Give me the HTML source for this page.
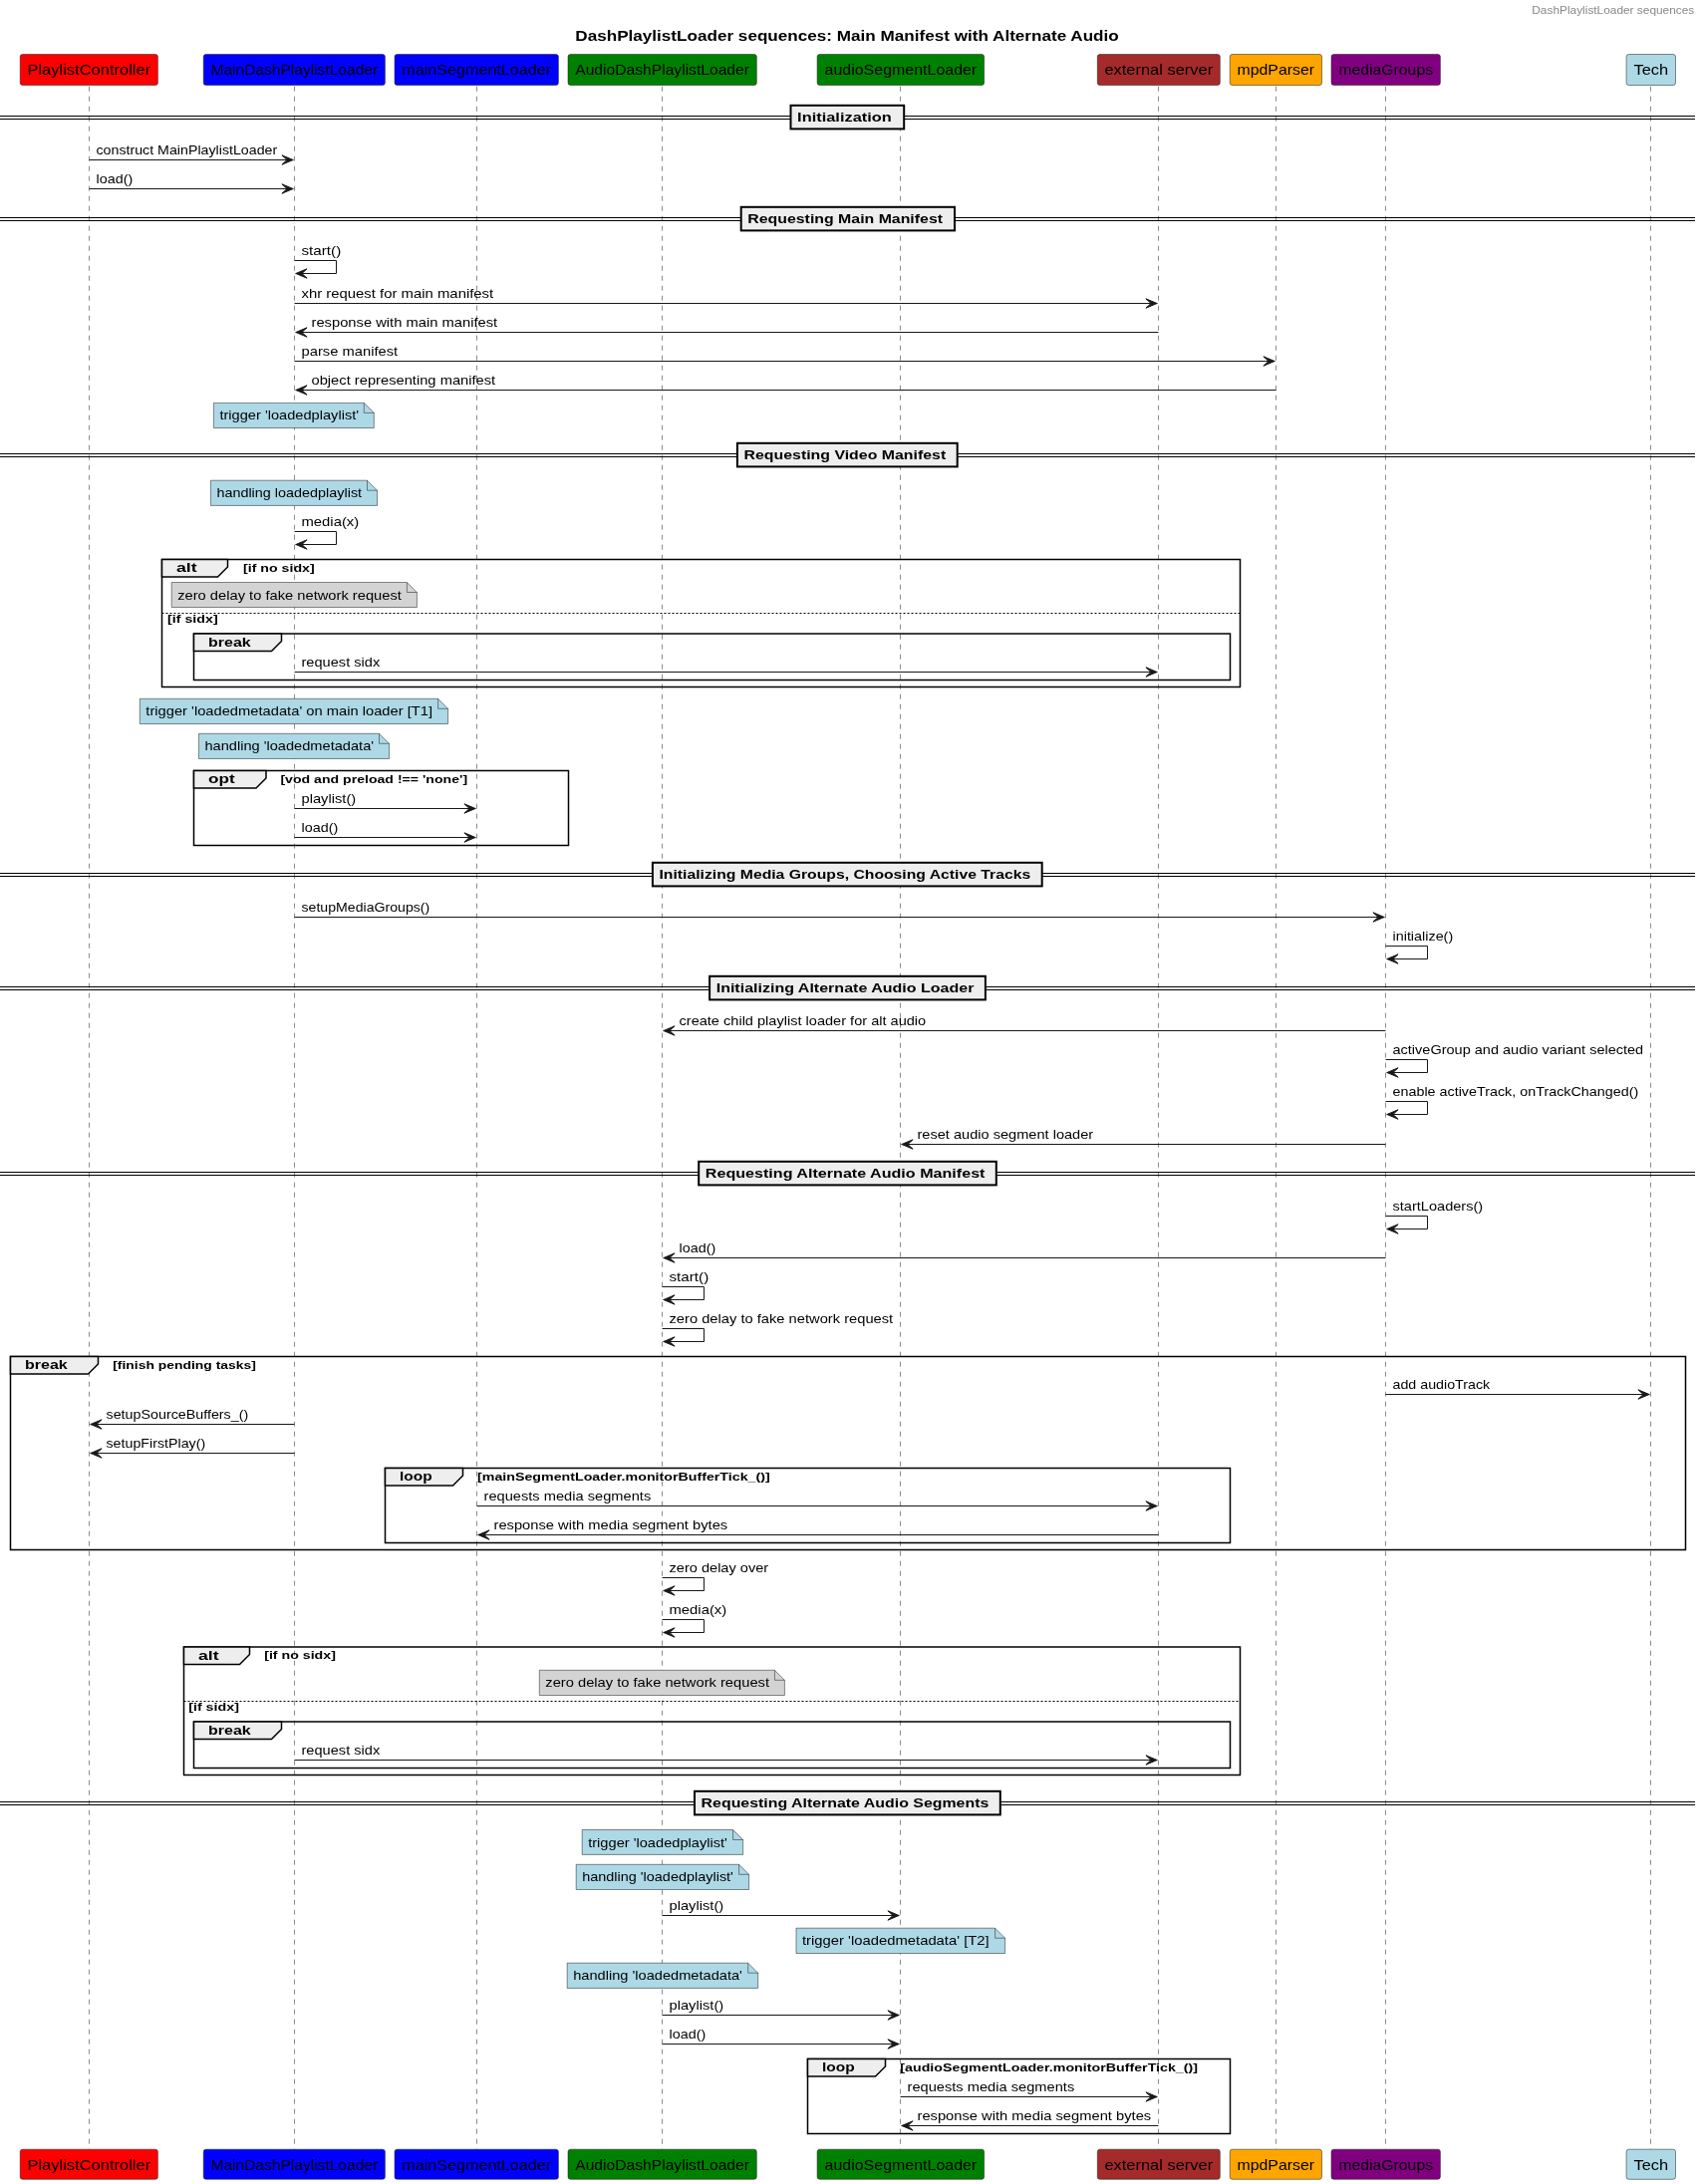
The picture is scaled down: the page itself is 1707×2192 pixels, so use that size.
<!DOCTYPE html>
<html><head><meta charset="utf-8"><title>DashPlaylistLoader sequences</title>
<style>html,body{margin:0;padding:0;background:#fff;width:1707px;height:2192px;overflow:hidden}svg{display:block;will-change:transform}text{font-family:"Liberation Sans",sans-serif}</style>
</head><body>
<svg width="1707" height="2192" viewBox="0 0 1707 2192" font-family="Liberation Sans, sans-serif"><line x1="89.5" y1="86.7" x2="89.5" y2="2157.2" stroke="#181818" stroke-width="0.5" stroke-dasharray="5,5"/>
<line x1="295.5" y1="86.7" x2="295.5" y2="2157.2" stroke="#181818" stroke-width="0.5" stroke-dasharray="5,5"/>
<line x1="478.5" y1="86.7" x2="478.5" y2="2157.2" stroke="#181818" stroke-width="0.5" stroke-dasharray="5,5"/>
<line x1="664.5" y1="86.7" x2="664.5" y2="2157.2" stroke="#181818" stroke-width="0.5" stroke-dasharray="5,5"/>
<line x1="903.5" y1="86.7" x2="903.5" y2="2157.2" stroke="#181818" stroke-width="0.5" stroke-dasharray="5,5"/>
<line x1="1162.5" y1="86.7" x2="1162.5" y2="2157.2" stroke="#181818" stroke-width="0.5" stroke-dasharray="5,5"/>
<line x1="1280.5" y1="86.7" x2="1280.5" y2="2157.2" stroke="#181818" stroke-width="0.5" stroke-dasharray="5,5"/>
<line x1="1390.5" y1="86.7" x2="1390.5" y2="2157.2" stroke="#181818" stroke-width="0.5" stroke-dasharray="5,5"/>
<line x1="1656.5" y1="86.7" x2="1656.5" y2="2157.2" stroke="#181818" stroke-width="0.5" stroke-dasharray="5,5"/>
<line x1="0" y1="116.5" x2="1701" y2="116.5" stroke="#000" stroke-width="1"/>
<line x1="0" y1="119.5" x2="1701" y2="119.5" stroke="#000" stroke-width="1"/>
<rect x="793.5" y="105.8" width="113.7" height="23.6" fill="#EEEEEE" stroke="#000" stroke-width="2"/>
<text x="800.1" y="121.8" font-size="13.3" font-weight="bold" fill="#000000" textLength="94.7" lengthAdjust="spacingAndGlyphs">Initialization</text>
<line x1="0" y1="218.5" x2="1701" y2="218.5" stroke="#000" stroke-width="1"/>
<line x1="0" y1="221.5" x2="1701" y2="221.5" stroke="#000" stroke-width="1"/>
<rect x="743.7" y="207.8" width="214.3" height="23.6" fill="#EEEEEE" stroke="#000" stroke-width="2"/>
<text x="750.3" y="223.8" font-size="13.3" font-weight="bold" fill="#000000" textLength="195.7" lengthAdjust="spacingAndGlyphs">Requesting Main Manifest</text>
<line x1="0" y1="455.5" x2="1701" y2="455.5" stroke="#000" stroke-width="1"/>
<line x1="0" y1="458.5" x2="1701" y2="458.5" stroke="#000" stroke-width="1"/>
<rect x="739.9" y="444.8" width="220.8" height="23.6" fill="#EEEEEE" stroke="#000" stroke-width="2"/>
<text x="746.5" y="460.8" font-size="13.3" font-weight="bold" fill="#000000" textLength="202.7" lengthAdjust="spacingAndGlyphs">Requesting Video Manifest</text>
<line x1="0" y1="876.5" x2="1701" y2="876.5" stroke="#000" stroke-width="1"/>
<line x1="0" y1="879.5" x2="1701" y2="879.5" stroke="#000" stroke-width="1"/>
<rect x="654.9" y="865.8" width="390.8" height="23.6" fill="#EEEEEE" stroke="#000" stroke-width="2"/>
<text x="661.5" y="881.8" font-size="13.3" font-weight="bold" fill="#000000" textLength="372.7" lengthAdjust="spacingAndGlyphs">Initializing Media Groups, Choosing Active Tracks</text>
<line x1="0" y1="990.5" x2="1701" y2="990.5" stroke="#000" stroke-width="1"/>
<line x1="0" y1="993.5" x2="1701" y2="993.5" stroke="#000" stroke-width="1"/>
<rect x="712.1" y="979.8" width="276.8" height="23.6" fill="#EEEEEE" stroke="#000" stroke-width="2"/>
<text x="718.7" y="995.8" font-size="13.3" font-weight="bold" fill="#000000" textLength="258.7" lengthAdjust="spacingAndGlyphs">Initializing Alternate Audio Loader</text>
<line x1="0" y1="1176.5" x2="1701" y2="1176.5" stroke="#000" stroke-width="1"/>
<line x1="0" y1="1179.5" x2="1701" y2="1179.5" stroke="#000" stroke-width="1"/>
<rect x="701.2" y="1165.8" width="298.6" height="23.6" fill="#EEEEEE" stroke="#000" stroke-width="2"/>
<text x="707.8" y="1181.8" font-size="13.3" font-weight="bold" fill="#000000" textLength="280.7" lengthAdjust="spacingAndGlyphs">Requesting Alternate Audio Manifest</text>
<line x1="0" y1="1808.5" x2="1701" y2="1808.5" stroke="#000" stroke-width="1"/>
<line x1="0" y1="1811.5" x2="1701" y2="1811.5" stroke="#000" stroke-width="1"/>
<rect x="697.0" y="1797.8" width="306.8" height="23.6" fill="#EEEEEE" stroke="#000" stroke-width="2"/>
<text x="703.6" y="1813.8" font-size="13.3" font-weight="bold" fill="#000000" textLength="288.7" lengthAdjust="spacingAndGlyphs">Requesting Alternate Audio Segments</text>
<rect x="162.5" y="561.5" width="1082.0" height="128.0" fill="none" stroke="#000" stroke-width="1.5"/>
<polygon points="162.5,561.5 228.5,561.5 228.5,569.0 218.5,579.0 162.5,579.0 162.5,561.5" fill="#EEEEEE" stroke="#000" stroke-width="1.5"/>
<text x="177.0" y="574.3" font-size="13.3" font-weight="bold" fill="#000000" textLength="20.7" lengthAdjust="spacingAndGlyphs">alt</text>
<text x="244.0" y="573.5" font-size="11.3" font-weight="bold" fill="#000000" textLength="71.7" lengthAdjust="spacingAndGlyphs">[if no sidx]</text>
<line x1="162.5" y1="615.5" x2="1244.5" y2="615.5" stroke="#000" stroke-width="1" stroke-dasharray="2,2"/>
<text x="168.0" y="625.0" font-size="11.3" font-weight="bold" fill="#000000" textLength="50.7" lengthAdjust="spacingAndGlyphs">[if sidx]</text>
<rect x="194.5" y="636" width="1040.0" height="46.5" fill="none" stroke="#000" stroke-width="1.5"/>
<polygon points="194.5,636 282.5,636 282.5,643.5 272.5,653.5 194.5,653.5 194.5,636" fill="#EEEEEE" stroke="#000" stroke-width="1.5"/>
<text x="209.0" y="648.8" font-size="13.3" font-weight="bold" fill="#000000" textLength="42.7" lengthAdjust="spacingAndGlyphs">break</text>
<rect x="194.5" y="773.5" width="376.0" height="75.0" fill="none" stroke="#000" stroke-width="1.5"/>
<polygon points="194.5,773.5 267.0,773.5 267.0,781.0 257.0,791.0 194.5,791.0 194.5,773.5" fill="#EEEEEE" stroke="#000" stroke-width="1.5"/>
<text x="209.0" y="786.3" font-size="13.3" font-weight="bold" fill="#000000" textLength="26.7" lengthAdjust="spacingAndGlyphs">opt</text>
<text x="281.4" y="785.5" font-size="11.3" font-weight="bold" fill="#000000" textLength="187.7" lengthAdjust="spacingAndGlyphs">[vod and preload !== &#39;none&#39;]</text>
<rect x="10.5" y="1361.5" width="1681.0" height="194.0" fill="none" stroke="#000" stroke-width="1.5"/>
<polygon points="10.5,1361.5 98.5,1361.5 98.5,1369.0 88.5,1379.0 10.5,1379.0 10.5,1361.5" fill="#EEEEEE" stroke="#000" stroke-width="1.5"/>
<text x="25.0" y="1374.3" font-size="13.3" font-weight="bold" fill="#000000" textLength="42.7" lengthAdjust="spacingAndGlyphs">break</text>
<text x="113.2" y="1373.5" font-size="11.3" font-weight="bold" fill="#000000" textLength="143.7" lengthAdjust="spacingAndGlyphs">[finish pending tasks]</text>
<rect x="386.5" y="1473.5" width="848.0" height="75.0" fill="none" stroke="#000" stroke-width="1.5"/>
<polygon points="386.5,1473.5 464.5,1473.5 464.5,1481.0 454.5,1491.0 386.5,1491.0 386.5,1473.5" fill="#EEEEEE" stroke="#000" stroke-width="1.5"/>
<text x="401.0" y="1486.3" font-size="13.3" font-weight="bold" fill="#000000" textLength="32.7" lengthAdjust="spacingAndGlyphs">loop</text>
<text x="479.0" y="1485.5" font-size="11.3" font-weight="bold" fill="#000000" textLength="293.7" lengthAdjust="spacingAndGlyphs">[mainSegmentLoader.monitorBufferTick_()]</text>
<rect x="184.5" y="1653" width="1060.0" height="128.5" fill="none" stroke="#000" stroke-width="1.5"/>
<polygon points="184.5,1653 250.5,1653 250.5,1660.5 240.5,1670.5 184.5,1670.5 184.5,1653" fill="#EEEEEE" stroke="#000" stroke-width="1.5"/>
<text x="199.0" y="1665.8" font-size="13.3" font-weight="bold" fill="#000000" textLength="20.7" lengthAdjust="spacingAndGlyphs">alt</text>
<text x="265.2" y="1665.0" font-size="11.3" font-weight="bold" fill="#000000" textLength="71.7" lengthAdjust="spacingAndGlyphs">[if no sidx]</text>
<line x1="184.5" y1="1707.5" x2="1244.5" y2="1707.5" stroke="#000" stroke-width="1" stroke-dasharray="2,2"/>
<text x="189.2" y="1717.0" font-size="11.3" font-weight="bold" fill="#000000" textLength="50.7" lengthAdjust="spacingAndGlyphs">[if sidx]</text>
<rect x="194.5" y="1728" width="1040.0" height="46.5" fill="none" stroke="#000" stroke-width="1.5"/>
<polygon points="194.5,1728 282.5,1728 282.5,1735.5 272.5,1745.5 194.5,1745.5 194.5,1728" fill="#EEEEEE" stroke="#000" stroke-width="1.5"/>
<text x="209.0" y="1740.8" font-size="13.3" font-weight="bold" fill="#000000" textLength="42.7" lengthAdjust="spacingAndGlyphs">break</text>
<rect x="810.5" y="2066.5" width="424.0" height="75.0" fill="none" stroke="#000" stroke-width="1.5"/>
<polygon points="810.5,2066.5 888.5,2066.5 888.5,2074.0 878.5,2084.0 810.5,2084.0 810.5,2066.5" fill="#EEEEEE" stroke="#000" stroke-width="1.5"/>
<text x="825.0" y="2079.3" font-size="13.3" font-weight="bold" fill="#000000" textLength="32.7" lengthAdjust="spacingAndGlyphs">loop</text>
<text x="903.3" y="2078.5" font-size="11.3" font-weight="bold" fill="#000000" textLength="298.7" lengthAdjust="spacingAndGlyphs">[audioSegmentLoader.monitorBufferTick_()]</text>
<path d="M214.4,404.4 L365.3,404.4 L375.3,414.4 L375.3,429.5 L214.4,429.5 Z" fill="#ADD8E6" stroke="#181818" stroke-width="0.5"/>
<path d="M365.3,404.4 L365.3,414.4 L375.3,414.4" fill="none" stroke="#181818" stroke-width="0.5"/>
<text x="220.4" y="421.4" font-size="13.5" fill="#000000" textLength="139.7" lengthAdjust="spacingAndGlyphs">trigger &#39;loadedplaylist&#39;</text>
<path d="M211.4,482.2 L368.5,482.2 L378.5,492.2 L378.5,507.4 L211.4,507.4 Z" fill="#ADD8E6" stroke="#181818" stroke-width="0.5"/>
<path d="M368.5,482.2 L368.5,492.2 L378.5,492.2" fill="none" stroke="#181818" stroke-width="0.5"/>
<text x="217.4" y="499.2" font-size="13.5" fill="#000000" textLength="145.7" lengthAdjust="spacingAndGlyphs">handling loadedplaylist</text>
<path d="M172.2,584.5 L408.4,584.5 L418.4,594.5 L418.4,609.5 L172.2,609.5 Z" fill="#D3D3D3" stroke="#181818" stroke-width="0.5"/>
<path d="M408.4,584.5 L408.4,594.5 L418.4,594.5" fill="none" stroke="#181818" stroke-width="0.5"/>
<text x="178.2" y="601.5" font-size="13.5" fill="#000000" textLength="224.7" lengthAdjust="spacingAndGlyphs">zero delay to fake network request</text>
<path d="M140.3,701.3 L439.6,701.3 L449.6,711.3 L449.6,726.5 L140.3,726.5 Z" fill="#ADD8E6" stroke="#181818" stroke-width="0.5"/>
<path d="M439.6,701.3 L439.6,711.3 L449.6,711.3" fill="none" stroke="#181818" stroke-width="0.5"/>
<text x="146.3" y="718.3" font-size="13.5" fill="#000000" textLength="287.7" lengthAdjust="spacingAndGlyphs">trigger &#39;loadedmetadata&#39; on main loader [T1]</text>
<path d="M199.4,736.3 L380.5,736.3 L390.5,746.3 L390.5,761.5 L199.4,761.5 Z" fill="#ADD8E6" stroke="#181818" stroke-width="0.5"/>
<path d="M380.5,736.3 L380.5,746.3 L390.5,746.3" fill="none" stroke="#181818" stroke-width="0.5"/>
<text x="205.4" y="753.3" font-size="13.5" fill="#000000" textLength="169.7" lengthAdjust="spacingAndGlyphs">handling &#39;loadedmetadata&#39;</text>
<path d="M541.3,1676.3 L777.4,1676.3 L787.4,1686.3 L787.4,1701.5 L541.3,1701.5 Z" fill="#D3D3D3" stroke="#181818" stroke-width="0.5"/>
<path d="M777.4,1676.3 L777.4,1686.3 L787.4,1686.3" fill="none" stroke="#181818" stroke-width="0.5"/>
<text x="547.3" y="1693.3" font-size="13.5" fill="#000000" textLength="224.7" lengthAdjust="spacingAndGlyphs">zero delay to fake network request</text>
<path d="M584.2,1836.5 L735.6,1836.5 L745.6,1846.5 L745.6,1861.4 L584.2,1861.4 Z" fill="#ADD8E6" stroke="#181818" stroke-width="0.5"/>
<path d="M735.6,1836.5 L735.6,1846.5 L745.6,1846.5" fill="none" stroke="#181818" stroke-width="0.5"/>
<text x="590.2" y="1853.5" font-size="13.5" fill="#000000" textLength="139.7" lengthAdjust="spacingAndGlyphs">trigger &#39;loadedplaylist&#39;</text>
<path d="M578.2,1871.3 L741.6,1871.3 L751.6,1881.3 L751.6,1896.5 L578.2,1896.5 Z" fill="#ADD8E6" stroke="#181818" stroke-width="0.5"/>
<path d="M741.6,1871.3 L741.6,1881.3 L751.6,1881.3" fill="none" stroke="#181818" stroke-width="0.5"/>
<text x="584.2" y="1888.3" font-size="13.5" fill="#000000" textLength="151.7" lengthAdjust="spacingAndGlyphs">handling &#39;loadedplaylist&#39;</text>
<path d="M799.0,1935.2 L998.6,1935.2 L1008.6,1945.2 L1008.6,1960.5 L799.0,1960.5 Z" fill="#ADD8E6" stroke="#181818" stroke-width="0.5"/>
<path d="M998.6,1935.2 L998.6,1945.2 L1008.6,1945.2" fill="none" stroke="#181818" stroke-width="0.5"/>
<text x="805.0" y="1952.2" font-size="13.5" fill="#000000" textLength="187.7" lengthAdjust="spacingAndGlyphs">trigger &#39;loadedmetadata&#39; [T2]</text>
<path d="M569.2,1970.2 L750.7,1970.2 L760.7,1980.2 L760.7,1995.4 L569.2,1995.4 Z" fill="#ADD8E6" stroke="#181818" stroke-width="0.5"/>
<path d="M750.7,1970.2 L750.7,1980.2 L760.7,1980.2" fill="none" stroke="#181818" stroke-width="0.5"/>
<text x="575.2" y="1987.2" font-size="13.5" fill="#000000" textLength="169.7" lengthAdjust="spacingAndGlyphs">handling &#39;loadedmetadata&#39;</text>
<line x1="89.5" y1="160.5" x2="294.5" y2="160.5" stroke="#181818" stroke-width="1"/>
<polygon points="282.9,155.8 294.1,160.5 282.9,165.2 288.1,160.5" fill="#181818" stroke="#181818" stroke-width="1"/>
<text x="96.5" y="155.1" font-size="13.5" fill="#000000" textLength="181.7" lengthAdjust="spacingAndGlyphs">construct MainPlaylistLoader</text>
<line x1="89.5" y1="189.5" x2="294.5" y2="189.5" stroke="#181818" stroke-width="1"/>
<polygon points="282.9,184.8 294.1,189.5 282.9,194.2 288.1,189.5" fill="#181818" stroke="#181818" stroke-width="1"/>
<text x="96.5" y="184.1" font-size="13.5" fill="#000000" textLength="36.7" lengthAdjust="spacingAndGlyphs">load()</text>
<polyline points="295.5,261.5 337.5,261.5 337.5,274.5 296.5,274.5" fill="none" stroke="#181818" stroke-width="1"/>
<polygon points="308.1,269.8 296.9,274.5 308.1,279.2 302.9,274.5" fill="#181818" stroke="#181818" stroke-width="1"/>
<text x="302.5" y="256.3" font-size="13.5" fill="#000000" textLength="39.7" lengthAdjust="spacingAndGlyphs">start()</text>
<line x1="295.5" y1="304.5" x2="1161.5" y2="304.5" stroke="#181818" stroke-width="1"/>
<polygon points="1149.9,299.8 1161.1,304.5 1149.9,309.2 1155.1,304.5" fill="#181818" stroke="#181818" stroke-width="1"/>
<text x="302.5" y="299.1" font-size="13.5" fill="#000000" textLength="192.7" lengthAdjust="spacingAndGlyphs">xhr request for main manifest</text>
<line x1="296.5" y1="333.5" x2="1162.5" y2="333.5" stroke="#181818" stroke-width="1"/>
<polygon points="308.1,328.8 296.9,333.5 308.1,338.2 302.9,333.5" fill="#181818" stroke="#181818" stroke-width="1"/>
<text x="312.5" y="328.1" font-size="13.5" fill="#000000" textLength="186.7" lengthAdjust="spacingAndGlyphs">response with main manifest</text>
<line x1="295.5" y1="362.5" x2="1279.5" y2="362.5" stroke="#181818" stroke-width="1"/>
<polygon points="1267.9,357.8 1279.1,362.5 1267.9,367.2 1273.1,362.5" fill="#181818" stroke="#181818" stroke-width="1"/>
<text x="302.5" y="357.1" font-size="13.5" fill="#000000" textLength="96.7" lengthAdjust="spacingAndGlyphs">parse manifest</text>
<line x1="296.5" y1="391.5" x2="1280.5" y2="391.5" stroke="#181818" stroke-width="1"/>
<polygon points="308.1,386.8 296.9,391.5 308.1,396.2 302.9,391.5" fill="#181818" stroke="#181818" stroke-width="1"/>
<text x="312.5" y="386.1" font-size="13.5" fill="#000000" textLength="184.7" lengthAdjust="spacingAndGlyphs">object representing manifest</text>
<polyline points="295.5,533.5 337.5,533.5 337.5,546.5 296.5,546.5" fill="none" stroke="#181818" stroke-width="1"/>
<polygon points="308.1,541.8 296.9,546.5 308.1,551.2 302.9,546.5" fill="#181818" stroke="#181818" stroke-width="1"/>
<text x="302.5" y="528.3" font-size="13.5" fill="#000000" textLength="57.7" lengthAdjust="spacingAndGlyphs">media(x)</text>
<line x1="295.5" y1="674.5" x2="1161.5" y2="674.5" stroke="#181818" stroke-width="1"/>
<polygon points="1149.9,669.8 1161.1,674.5 1149.9,679.2 1155.1,674.5" fill="#181818" stroke="#181818" stroke-width="1"/>
<text x="302.5" y="669.1" font-size="13.5" fill="#000000" textLength="78.7" lengthAdjust="spacingAndGlyphs">request sidx</text>
<line x1="295.5" y1="811.5" x2="477.5" y2="811.5" stroke="#181818" stroke-width="1"/>
<polygon points="465.9,806.8 477.1,811.5 465.9,816.2 471.1,811.5" fill="#181818" stroke="#181818" stroke-width="1"/>
<text x="302.5" y="806.1" font-size="13.5" fill="#000000" textLength="54.7" lengthAdjust="spacingAndGlyphs">playlist()</text>
<line x1="295.5" y1="840.5" x2="477.5" y2="840.5" stroke="#181818" stroke-width="1"/>
<polygon points="465.9,835.8 477.1,840.5 465.9,845.2 471.1,840.5" fill="#181818" stroke="#181818" stroke-width="1"/>
<text x="302.5" y="835.1" font-size="13.5" fill="#000000" textLength="36.7" lengthAdjust="spacingAndGlyphs">load()</text>
<line x1="295.5" y1="920.5" x2="1389.5" y2="920.5" stroke="#181818" stroke-width="1"/>
<polygon points="1377.9,915.8 1389.1,920.5 1377.9,925.2 1383.1,920.5" fill="#181818" stroke="#181818" stroke-width="1"/>
<text x="302.5" y="915.1" font-size="13.5" fill="#000000" textLength="128.7" lengthAdjust="spacingAndGlyphs">setupMediaGroups()</text>
<polyline points="1390.5,949.5 1432.5,949.5 1432.5,962.5 1391.5,962.5" fill="none" stroke="#181818" stroke-width="1"/>
<polygon points="1403.1,957.8 1391.9,962.5 1403.1,967.2 1397.9,962.5" fill="#181818" stroke="#181818" stroke-width="1"/>
<text x="1397.5" y="944.3" font-size="13.5" fill="#000000" textLength="60.7" lengthAdjust="spacingAndGlyphs">initialize()</text>
<line x1="665.5" y1="1034.5" x2="1390.5" y2="1034.5" stroke="#181818" stroke-width="1"/>
<polygon points="677.1,1029.8 665.9,1034.5 677.1,1039.2 671.9,1034.5" fill="#181818" stroke="#181818" stroke-width="1"/>
<text x="681.5" y="1029.1" font-size="13.5" fill="#000000" textLength="247.7" lengthAdjust="spacingAndGlyphs">create child playlist loader for alt audio</text>
<polyline points="1390.5,1063.5 1432.5,1063.5 1432.5,1076.5 1391.5,1076.5" fill="none" stroke="#181818" stroke-width="1"/>
<polygon points="1403.1,1071.8 1391.9,1076.5 1403.1,1081.2 1397.9,1076.5" fill="#181818" stroke="#181818" stroke-width="1"/>
<text x="1397.5" y="1058.3" font-size="13.5" fill="#000000" textLength="251.7" lengthAdjust="spacingAndGlyphs">activeGroup and audio variant selected</text>
<polyline points="1390.5,1105.5 1432.5,1105.5 1432.5,1118.5 1391.5,1118.5" fill="none" stroke="#181818" stroke-width="1"/>
<polygon points="1403.1,1113.8 1391.9,1118.5 1403.1,1123.2 1397.9,1118.5" fill="#181818" stroke="#181818" stroke-width="1"/>
<text x="1397.5" y="1100.3" font-size="13.5" fill="#000000" textLength="246.7" lengthAdjust="spacingAndGlyphs">enable activeTrack, onTrackChanged()</text>
<line x1="904.5" y1="1148.5" x2="1390.5" y2="1148.5" stroke="#181818" stroke-width="1"/>
<polygon points="916.1,1143.8 904.9,1148.5 916.1,1153.2 910.9,1148.5" fill="#181818" stroke="#181818" stroke-width="1"/>
<text x="920.5" y="1143.1" font-size="13.5" fill="#000000" textLength="176.7" lengthAdjust="spacingAndGlyphs">reset audio segment loader</text>
<polyline points="1390.5,1220.5 1432.5,1220.5 1432.5,1233.5 1391.5,1233.5" fill="none" stroke="#181818" stroke-width="1"/>
<polygon points="1403.1,1228.8 1391.9,1233.5 1403.1,1238.2 1397.9,1233.5" fill="#181818" stroke="#181818" stroke-width="1"/>
<text x="1397.5" y="1215.3" font-size="13.5" fill="#000000" textLength="90.7" lengthAdjust="spacingAndGlyphs">startLoaders()</text>
<line x1="665.5" y1="1262.5" x2="1390.5" y2="1262.5" stroke="#181818" stroke-width="1"/>
<polygon points="677.1,1257.8 665.9,1262.5 677.1,1267.2 671.9,1262.5" fill="#181818" stroke="#181818" stroke-width="1"/>
<text x="681.5" y="1257.1" font-size="13.5" fill="#000000" textLength="36.7" lengthAdjust="spacingAndGlyphs">load()</text>
<polyline points="664.5,1291.5 706.5,1291.5 706.5,1304.5 665.5,1304.5" fill="none" stroke="#181818" stroke-width="1"/>
<polygon points="677.1,1299.8 665.9,1304.5 677.1,1309.2 671.9,1304.5" fill="#181818" stroke="#181818" stroke-width="1"/>
<text x="671.5" y="1286.3" font-size="13.5" fill="#000000" textLength="39.7" lengthAdjust="spacingAndGlyphs">start()</text>
<polyline points="664.5,1333.5 706.5,1333.5 706.5,1346.5 665.5,1346.5" fill="none" stroke="#181818" stroke-width="1"/>
<polygon points="677.1,1341.8 665.9,1346.5 677.1,1351.2 671.9,1346.5" fill="#181818" stroke="#181818" stroke-width="1"/>
<text x="671.5" y="1328.3" font-size="13.5" fill="#000000" textLength="224.7" lengthAdjust="spacingAndGlyphs">zero delay to fake network request</text>
<line x1="1390.5" y1="1399.5" x2="1655.5" y2="1399.5" stroke="#181818" stroke-width="1"/>
<polygon points="1643.9,1394.8 1655.1,1399.5 1643.9,1404.2 1649.1,1399.5" fill="#181818" stroke="#181818" stroke-width="1"/>
<text x="1397.5" y="1394.1" font-size="13.5" fill="#000000" textLength="97.7" lengthAdjust="spacingAndGlyphs">add audioTrack</text>
<line x1="90.5" y1="1429.5" x2="295.5" y2="1429.5" stroke="#181818" stroke-width="1"/>
<polygon points="102.1,1424.8 90.9,1429.5 102.1,1434.2 96.9,1429.5" fill="#181818" stroke="#181818" stroke-width="1"/>
<text x="106.5" y="1424.1" font-size="13.5" fill="#000000" textLength="142.7" lengthAdjust="spacingAndGlyphs">setupSourceBuffers_()</text>
<line x1="90.5" y1="1458.5" x2="295.5" y2="1458.5" stroke="#181818" stroke-width="1"/>
<polygon points="102.1,1453.8 90.9,1458.5 102.1,1463.2 96.9,1458.5" fill="#181818" stroke="#181818" stroke-width="1"/>
<text x="106.5" y="1453.1" font-size="13.5" fill="#000000" textLength="99.7" lengthAdjust="spacingAndGlyphs">setupFirstPlay()</text>
<line x1="478.5" y1="1511.5" x2="1161.5" y2="1511.5" stroke="#181818" stroke-width="1"/>
<polygon points="1149.9,1506.8 1161.1,1511.5 1149.9,1516.2 1155.1,1511.5" fill="#181818" stroke="#181818" stroke-width="1"/>
<text x="485.5" y="1506.1" font-size="13.5" fill="#000000" textLength="167.7" lengthAdjust="spacingAndGlyphs">requests media segments</text>
<line x1="479.5" y1="1540.5" x2="1162.5" y2="1540.5" stroke="#181818" stroke-width="1"/>
<polygon points="491.1,1535.8 479.9,1540.5 491.1,1545.2 485.9,1540.5" fill="#181818" stroke="#181818" stroke-width="1"/>
<text x="495.5" y="1535.1" font-size="13.5" fill="#000000" textLength="234.7" lengthAdjust="spacingAndGlyphs">response with media segment bytes</text>
<polyline points="664.5,1583.5 706.5,1583.5 706.5,1596.5 665.5,1596.5" fill="none" stroke="#181818" stroke-width="1"/>
<polygon points="677.1,1591.8 665.9,1596.5 677.1,1601.2 671.9,1596.5" fill="#181818" stroke="#181818" stroke-width="1"/>
<text x="671.5" y="1578.3" font-size="13.5" fill="#000000" textLength="99.7" lengthAdjust="spacingAndGlyphs">zero delay over</text>
<polyline points="664.5,1625.5 706.5,1625.5 706.5,1638.5 665.5,1638.5" fill="none" stroke="#181818" stroke-width="1"/>
<polygon points="677.1,1633.8 665.9,1638.5 677.1,1643.2 671.9,1638.5" fill="#181818" stroke="#181818" stroke-width="1"/>
<text x="671.5" y="1620.3" font-size="13.5" fill="#000000" textLength="57.7" lengthAdjust="spacingAndGlyphs">media(x)</text>
<line x1="295.5" y1="1766.5" x2="1161.5" y2="1766.5" stroke="#181818" stroke-width="1"/>
<polygon points="1149.9,1761.8 1161.1,1766.5 1149.9,1771.2 1155.1,1766.5" fill="#181818" stroke="#181818" stroke-width="1"/>
<text x="302.5" y="1761.1" font-size="13.5" fill="#000000" textLength="78.7" lengthAdjust="spacingAndGlyphs">request sidx</text>
<line x1="664.5" y1="1922.5" x2="902.5" y2="1922.5" stroke="#181818" stroke-width="1"/>
<polygon points="890.9,1917.8 902.1,1922.5 890.9,1927.2 896.1,1922.5" fill="#181818" stroke="#181818" stroke-width="1"/>
<text x="671.5" y="1917.1" font-size="13.5" fill="#000000" textLength="54.7" lengthAdjust="spacingAndGlyphs">playlist()</text>
<line x1="664.5" y1="2022.5" x2="902.5" y2="2022.5" stroke="#181818" stroke-width="1"/>
<polygon points="890.9,2017.8 902.1,2022.5 890.9,2027.2 896.1,2022.5" fill="#181818" stroke="#181818" stroke-width="1"/>
<text x="671.5" y="2017.1" font-size="13.5" fill="#000000" textLength="54.7" lengthAdjust="spacingAndGlyphs">playlist()</text>
<line x1="664.5" y1="2051.5" x2="902.5" y2="2051.5" stroke="#181818" stroke-width="1"/>
<polygon points="890.9,2046.8 902.1,2051.5 890.9,2056.2 896.1,2051.5" fill="#181818" stroke="#181818" stroke-width="1"/>
<text x="671.5" y="2046.1" font-size="13.5" fill="#000000" textLength="36.7" lengthAdjust="spacingAndGlyphs">load()</text>
<line x1="903.5" y1="2104.5" x2="1161.5" y2="2104.5" stroke="#181818" stroke-width="1"/>
<polygon points="1149.9,2099.8 1161.1,2104.5 1149.9,2109.2 1155.1,2104.5" fill="#181818" stroke="#181818" stroke-width="1"/>
<text x="910.5" y="2099.1" font-size="13.5" fill="#000000" textLength="167.7" lengthAdjust="spacingAndGlyphs">requests media segments</text>
<line x1="904.5" y1="2133.5" x2="1162.5" y2="2133.5" stroke="#181818" stroke-width="1"/>
<polygon points="916.1,2128.8 904.9,2133.5 916.1,2138.2 910.9,2133.5" fill="#181818" stroke="#181818" stroke-width="1"/>
<text x="920.5" y="2128.1" font-size="13.5" fill="#000000" textLength="234.7" lengthAdjust="spacingAndGlyphs">response with media segment bytes</text>
<rect x="20.2" y="54.5" width="138.2" height="31.0" rx="2.5" ry="2.5" fill="#FF0000" stroke="#181818" stroke-width="0.5"/>
<text x="89.3" y="75.1" font-size="14.4" text-anchor="middle" fill="#000000" textLength="123.7" lengthAdjust="spacingAndGlyphs">PlaylistController</text>
<rect x="20.2" y="2157.2" width="138.2" height="30.1" rx="2.5" ry="2.5" fill="#FF0000" stroke="#181818" stroke-width="0.5"/>
<text x="89.3" y="2177.8" font-size="14.4" text-anchor="middle" fill="#000000" textLength="123.7" lengthAdjust="spacingAndGlyphs">PlaylistController</text>
<rect x="204.2" y="54.5" width="182.2" height="31.0" rx="2.5" ry="2.5" fill="#0000FF" stroke="#181818" stroke-width="0.5"/>
<text x="295.3" y="75.1" font-size="14.4" text-anchor="middle" fill="#000000" textLength="167.7" lengthAdjust="spacingAndGlyphs">MainDashPlaylistLoader</text>
<rect x="204.2" y="2157.2" width="182.2" height="30.1" rx="2.5" ry="2.5" fill="#0000FF" stroke="#181818" stroke-width="0.5"/>
<text x="295.3" y="2177.8" font-size="14.4" text-anchor="middle" fill="#000000" textLength="167.7" lengthAdjust="spacingAndGlyphs">MainDashPlaylistLoader</text>
<rect x="396.0" y="54.5" width="164.4" height="31.0" rx="2.5" ry="2.5" fill="#0000FF" stroke="#181818" stroke-width="0.5"/>
<text x="478.2" y="75.1" font-size="14.4" text-anchor="middle" fill="#000000" textLength="149.7" lengthAdjust="spacingAndGlyphs">mainSegmentLoader</text>
<rect x="396.0" y="2157.2" width="164.4" height="30.1" rx="2.5" ry="2.5" fill="#0000FF" stroke="#181818" stroke-width="0.5"/>
<text x="478.2" y="2177.8" font-size="14.4" text-anchor="middle" fill="#000000" textLength="149.7" lengthAdjust="spacingAndGlyphs">mainSegmentLoader</text>
<rect x="570.0" y="54.5" width="189.3" height="31.0" rx="2.5" ry="2.5" fill="#008000" stroke="#181818" stroke-width="0.5"/>
<text x="664.6" y="75.1" font-size="14.4" text-anchor="middle" fill="#000000" textLength="174.7" lengthAdjust="spacingAndGlyphs">AudioDashPlaylistLoader</text>
<rect x="570.0" y="2157.2" width="189.3" height="30.1" rx="2.5" ry="2.5" fill="#008000" stroke="#181818" stroke-width="0.5"/>
<text x="664.6" y="2177.8" font-size="14.4" text-anchor="middle" fill="#000000" textLength="174.7" lengthAdjust="spacingAndGlyphs">AudioDashPlaylistLoader</text>
<rect x="820.1" y="54.5" width="167.5" height="31.0" rx="2.5" ry="2.5" fill="#008000" stroke="#181818" stroke-width="0.5"/>
<text x="903.9" y="75.1" font-size="14.4" text-anchor="middle" fill="#000000" textLength="152.7" lengthAdjust="spacingAndGlyphs">audioSegmentLoader</text>
<rect x="820.1" y="2157.2" width="167.5" height="30.1" rx="2.5" ry="2.5" fill="#008000" stroke="#181818" stroke-width="0.5"/>
<text x="903.9" y="2177.8" font-size="14.4" text-anchor="middle" fill="#000000" textLength="152.7" lengthAdjust="spacingAndGlyphs">audioSegmentLoader</text>
<rect x="1101.3" y="54.5" width="123.0" height="31.0" rx="2.5" ry="2.5" fill="#A52A2A" stroke="#181818" stroke-width="0.5"/>
<text x="1162.8" y="75.1" font-size="14.4" text-anchor="middle" fill="#000000" textLength="108.7" lengthAdjust="spacingAndGlyphs">external server</text>
<rect x="1101.3" y="2157.2" width="123.0" height="30.1" rx="2.5" ry="2.5" fill="#A52A2A" stroke="#181818" stroke-width="0.5"/>
<text x="1162.8" y="2177.8" font-size="14.4" text-anchor="middle" fill="#000000" textLength="108.7" lengthAdjust="spacingAndGlyphs">external server</text>
<rect x="1234.2" y="54.5" width="92.3" height="31.0" rx="2.5" ry="2.5" fill="#FFA500" stroke="#181818" stroke-width="0.5"/>
<text x="1280.3" y="75.1" font-size="14.4" text-anchor="middle" fill="#000000" textLength="77.7" lengthAdjust="spacingAndGlyphs">mpdParser</text>
<rect x="1234.2" y="2157.2" width="92.3" height="30.1" rx="2.5" ry="2.5" fill="#FFA500" stroke="#181818" stroke-width="0.5"/>
<text x="1280.3" y="2177.8" font-size="14.4" text-anchor="middle" fill="#000000" textLength="77.7" lengthAdjust="spacingAndGlyphs">mpdParser</text>
<rect x="1336.0" y="54.5" width="109.4" height="31.0" rx="2.5" ry="2.5" fill="#800080" stroke="#181818" stroke-width="0.5"/>
<text x="1390.7" y="75.1" font-size="14.4" text-anchor="middle" fill="#000000" textLength="94.7" lengthAdjust="spacingAndGlyphs">mediaGroups</text>
<rect x="1336.0" y="2157.2" width="109.4" height="30.1" rx="2.5" ry="2.5" fill="#800080" stroke="#181818" stroke-width="0.5"/>
<text x="1390.7" y="2177.8" font-size="14.4" text-anchor="middle" fill="#000000" textLength="94.7" lengthAdjust="spacingAndGlyphs">mediaGroups</text>
<rect x="1632.1" y="54.5" width="49.4" height="31.0" rx="2.5" ry="2.5" fill="#ADD8E6" stroke="#181818" stroke-width="0.5"/>
<text x="1656.8" y="75.1" font-size="14.4" text-anchor="middle" fill="#000000" textLength="34.7" lengthAdjust="spacingAndGlyphs">Tech</text>
<rect x="1632.1" y="2157.2" width="49.4" height="30.1" rx="2.5" ry="2.5" fill="#ADD8E6" stroke="#181818" stroke-width="0.5"/>
<text x="1656.8" y="2177.8" font-size="14.4" text-anchor="middle" fill="#000000" textLength="34.7" lengthAdjust="spacingAndGlyphs">Tech</text>
<text x="577.3" y="41.2" font-size="14.2" font-weight="bold" fill="#000000" textLength="545.5" lengthAdjust="spacingAndGlyphs">DashPlaylistLoader sequences: Main Manifest with Alternate Audio</text>
<text x="1537.3" y="14.0" font-size="10.5" fill="#888888" textLength="163.0" lengthAdjust="spacingAndGlyphs">DashPlaylistLoader sequences</text></svg>
</body></html>
